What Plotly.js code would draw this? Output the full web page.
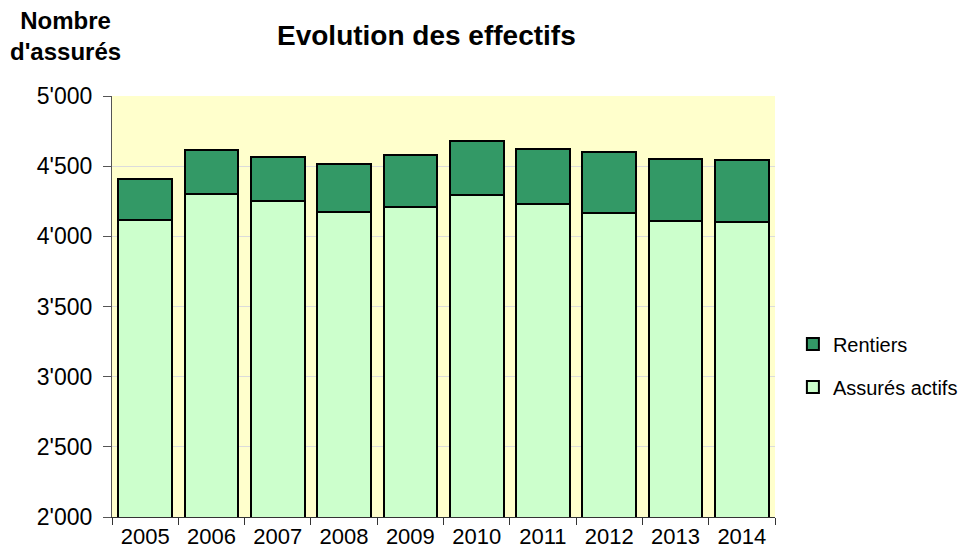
<!DOCTYPE html>
<html>
<head>
<meta charset="utf-8">
<script src="https://cdn.plot.ly/plotly-3.0.1.min.js"></script>
<style>html,body{margin:0;padding:0;background:#fff;}#chart{width:968px;height:551px;}</style>
</head>
<body>
<div id="chart"></div>
<script>
const years = ['2005','2006','2007','2008','2009','2010','2011','2012','2013','2014'];
const assuresActifs = [4119, 4304, 4249, 4173, 4208, 4297, 4228, 4166, 4112, 4102];
const rentiers = [291, 313, 315, 344, 370, 381, 396, 434, 441, 444];
const yTicks = [2000, 2500, 3000, 3500, 4000, 4500, 5000];

const font = 'Liberation Sans, Arial, sans-serif';
const traces = [
  {type:'bar', name:'Assurés actifs', x:years, y:assuresActifs, legendgroup:'a', legendrank:2,
   marker:{color:'#CCFFCC', line:{color:'#000', width:2}}},
  {type:'bar', name:'Rentiers', x:years, y:rentiers, legendgroup:'r', legendrank:1,
   marker:{color:'#339966', line:{color:'#000', width:2}}}
];
const layout = {
  width:968, height:551,
  margin:{l:112, r:193, t:96, b:34, autoexpand:false},
  barmode:'stack', bargap:0.19,
  separators:".'",
  paper_bgcolor:'#fff', plot_bgcolor:'#FFFFCC',
  font:{family:font, color:'#000', size:18},
  showlegend:true,
  legend:{x:1.027, y:0.36, yanchor:'middle', xanchor:'left', traceorder:'grouped', tracegroupgap:14,
          itemwidth:30, font:{size:20, family:font}, bgcolor:'rgba(0,0,0,0)'},
  xaxis:{type:'category', tickson:'boundaries', ticks:'outside', ticklen:7, tickcolor:'#333',
         showline:true, linecolor:'#333', linewidth:1, tickfont:{size:22}, showgrid:false},
  yaxis:{range:[2000,5000], tickvals:yTicks, tickformat:',d', ticks:'outside', ticklen:8, tickcolor:'#555',
         showline:true, linecolor:'#555', linewidth:1, gridcolor:'#dcdcdc', gridwidth:1,
         ticklabelstandoff:6, tickfont:{size:23}, zeroline:false},
  annotations:[
    {text:'<b>Evolution des effectifs</b>', xref:'paper', yref:'paper', x:(426-112)/663, y:1.0, yanchor:'middle', xanchor:'center',
     yshift:(96-35), showarrow:false, font:{size:28, family:font}},
    {text:'<b>Nombre<br>d\'assurés</b>', xref:'paper', yref:'paper', x:(65-112)/663, y:1.0, xanchor:'center', yanchor:'middle',
     yshift:(96-36), showarrow:false, font:{size:24, family:font}, align:'center'}
  ]
};
Plotly.newPlot('chart', traces, layout, {displayModeBar:false, staticPlot:true});
</script>
</body>
</html>
